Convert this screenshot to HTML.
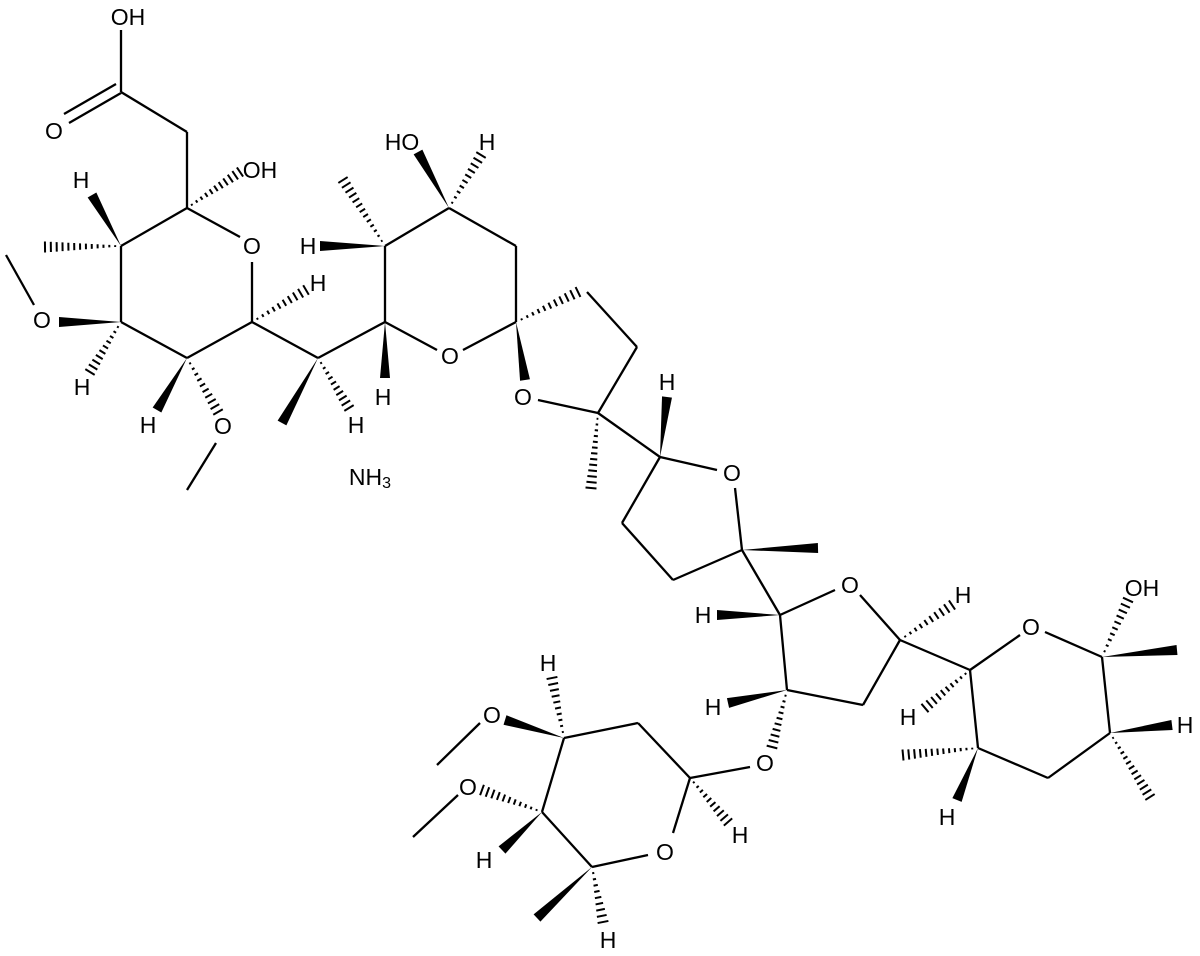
<!DOCTYPE html>
<html><head><meta charset="utf-8"><style>
html,body{margin:0;padding:0;background:#fff;width:1200px;height:956px;overflow:hidden}
svg text{font-family:"Liberation Sans",Arial,sans-serif;font-size:23px;fill:#000;text-anchor:middle;dominant-baseline:central}
</style></head><body>
<svg id="s" width="1200" height="956" viewBox="0 0 1200 956" xmlns="http://www.w3.org/2000/svg">
<g id="b" stroke="#000" stroke-width="2.3" fill="#000" stroke-linecap="butt"></g>
<text x="128" y="17">OH</text>
<text x="54" y="131">O</text>
<text x="260" y="170">OH</text>
<text x="252" y="246">O</text>
<text x="81" y="180">H</text>
<text x="42" y="320">O</text>
<text x="82" y="387">H</text>
<text x="148" y="425">H</text>
<text x="223" y="426">O</text>
<text x="318" y="283">H</text>
<text x="356" y="425">H</text>
<text x="383" y="397">H</text>
<text x="308" y="246">H</text>
<text x="402" y="142">HO</text>
<text x="487" y="142">H</text>
<text x="450" y="356">O</text>
<text x="523" y="397">O</text>
<text x="370" y="477">NH<tspan font-size="16" dy="6">3</tspan></text>
<text x="667" y="382">H</text>
<text x="732" y="473">O</text>
<text x="703" y="615">H</text>
<text x="850" y="585">O</text>
<text x="713" y="707">H</text>
<text x="765" y="763">O</text>
<text x="740" y="835">H</text>
<text x="665" y="852">O</text>
<text x="548" y="663">H</text>
<text x="492" y="715">O</text>
<text x="468" y="787">O</text>
<text x="484" y="860">H</text>
<text x="608" y="940">H</text>
<text x="963" y="595">H</text>
<text x="1031" y="627">O</text>
<text x="1142" y="588">OH</text>
<text x="1185" y="725">H</text>
<text x="908" y="717">H</text>
<text x="947" y="817">H</text>
</svg>
<script>
var g=document.getElementById('b'),NS='http://www.w3.org/2000/svg';
function el(t,a){var e=document.createElementNS(NS,t);for(var k in a)e.setAttribute(k,a[k]);g.appendChild(e);}
function L(a,b,c,d){el('line',{x1:a,y1:b,x2:c,y2:d});}
function W(a,b,c,d){var dx=c-a,dy=d-b,l=Math.hypot(dx,dy),nx=-dy/l*5,ny=dx/l*5;
el('polygon',{points:a+','+b+' '+(c+nx)+','+(d+ny)+' '+(c-nx)+','+(d-ny),stroke:'none'});}
function H(a,b,c,d){var dx=c-a,dy=d-b,l=Math.hypot(dx,dy),ux=-dy/l,uy=dx/l,n=Math.max(5,Math.round(l/6));
for(var i=1;i<=n;i++){var t=i/n,x=a+dx*t,y=b+dy*t,w=0.5+5*t;el('line',{x1:x-ux*w,y1:y-uy*w,x2:x+ux*w,y2:y+uy*w,'stroke-width':2});}}
// left sugar
L(121,92,121,30);L(121,93,69,123);L(116,84,64,114);L(121,92,187,132);L(187,132,187,208);
H(187,208,240,172);L(187,208,240,237);L(252,262,252,322);L(187,208,121,246);
W(121,246,92,195);H(121,246,45,247);L(121,246,121,322);
W(121,322,59,322);L(34,305,6,255);H(121,322,90,372);L(121,322,187,358);
W(187,358,157,410);H(187,358,218,412);L(216,443,187,490);L(187,358,252,322);
H(252,322,306,290);L(252,322,318,358);
W(318,358,282,423);H(318,358,349,408);L(318,358,385,322);
// second ring
W(385,322,385,378);L(385,322,385,246);W(385,246,320,246);H(385,246,343,180);
L(385,246,449,208);W(449,208,418,152);H(449,208,481,155);L(449,208,516,246);
L(516,246,516,322);L(385,322,437,350);L(463,350,516,322);
H(516,322,578,292);W(516,322,525,380);
// spiro THF
L(587,292,637,347);L(637,347,598,413);L(538,400,598,413);
H(598,413,591,488);L(598,413,660,457);W(660,457,667,397);
L(660,457,717,470);L(735,488,742,550);L(660,457,622,523);L(622,523,673,580);L(673,580,742,550);
W(742,550,818,548);L(742,550,780,615);W(780,615,717,615);L(780,615,835,590);
// third THF
L(780,615,787,690);W(787,690,728,703);L(787,690,863,705);L(863,705,900,640);
L(860,595,900,640);H(787,690,772,747);
// lower sugar
L(750,767,690,778);H(690,778,728,822);L(690,778,673,833);L(648,855,592,867);
L(690,778,638,723);L(638,723,564,738);H(564,738,552,678);W(564,738,505,720);
L(480,723,437,765);L(564,738,542,812);H(542,812,482,790);L(458,795,413,837);
W(542,812,502,850);L(542,812,592,867);W(592,867,537,918);H(592,867,603,922);
// right pyran
H(900,640,952,605);L(900,640,970,670);L(970,670,1020,635);L(1045,632,1102,657);
H(1102,657,1128,600);W(1102,657,1177,650);L(1102,657,1110,733);
W(1110,733,1172,725);H(1110,733,1150,797);L(1110,733,1048,778);L(1048,778,978,748);
L(978,748,970,670);H(978,748,903,755);W(978,748,957,800);H(970,670,925,708);
</script>
</body></html>
